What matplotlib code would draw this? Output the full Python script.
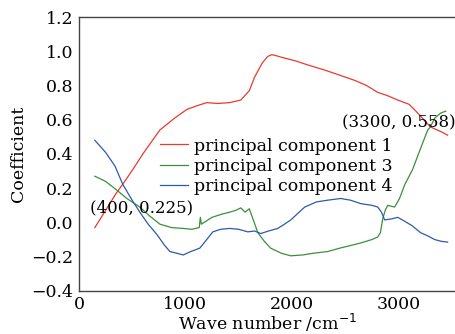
import numpy as np
import matplotlib
matplotlib.use('Agg')
import matplotlib.pyplot as plt

# hand-read points from the reference (wave number, coefficient)
pc1_x = [150, 250, 350, 414, 507, 600, 760, 900, 1013, 1100, 1200, 1300, 1416, 1520, 1600, 1650, 1720, 1773, 1810, 1848, 1900, 2027, 2150, 2308, 2450, 2589, 2700, 2805, 2900, 2993, 3100, 3180, 3300, 3400, 3461]
pc1_y = [-0.03, 0.07, 0.17, 0.225, 0.31, 0.40, 0.54, 0.61, 0.66, 0.68, 0.70, 0.695, 0.70, 0.715, 0.77, 0.85, 0.93, 0.97, 0.98, 0.975, 0.965, 0.945, 0.92, 0.89, 0.86, 0.83, 0.80, 0.76, 0.74, 0.715, 0.69, 0.64, 0.558, 0.53, 0.51]

pc3_x = [150, 250, 354, 450, 572, 660, 760, 870, 980, 1060, 1130, 1140, 1150, 1250, 1350, 1416, 1470, 1520, 1560, 1600, 1680, 1740, 1800, 1900, 1990, 2100, 2200, 2335, 2450, 2550, 2645, 2750, 2805, 2830, 2852, 2875, 2899, 2964, 3010, 3058, 3133, 3200, 3274, 3300, 3340, 3400, 3443]
pc3_y = [0.27, 0.24, 0.19, 0.14, 0.09, 0.04, -0.01, -0.03, -0.035, -0.04, -0.03, 0.03, -0.01, 0.03, 0.05, 0.06, 0.07, 0.085, 0.06, 0.08, -0.06, -0.11, -0.15, -0.18, -0.195, -0.19, -0.18, -0.17, -0.15, -0.135, -0.12, -0.10, -0.085, -0.06, 0.02, 0.07, 0.10, 0.09, 0.14, 0.22, 0.31, 0.42, 0.54, 0.558, 0.61, 0.64, 0.65]

pc4_x = [150, 250, 338, 414, 500, 572, 650, 732, 800, 854, 920, 980, 1050, 1135, 1200, 1257, 1330, 1416, 1500, 1585, 1650, 1707, 1780, 1867, 1930, 1990, 2050, 2120, 2230, 2335, 2458, 2550, 2645, 2750, 2805, 2840, 2870, 2930, 2993, 3050, 3130, 3208, 3280, 3340, 3400, 3461]
pc4_y = [0.48, 0.41, 0.33, 0.22, 0.13, 0.06, -0.01, -0.07, -0.13, -0.17, -0.18, -0.19, -0.17, -0.15, -0.10, -0.055, -0.04, -0.035, -0.04, -0.055, -0.05, -0.065, -0.05, -0.035, -0.01, 0.015, 0.05, 0.09, 0.12, 0.13, 0.14, 0.13, 0.11, 0.10, 0.09, 0.06, 0.015, 0.02, 0.03, 0.01, -0.02, -0.06, -0.08, -0.10, -0.11, -0.115]

names = ['principal component 1', 'principal component 3', 'principal component 4']
colors = ['#e83a2e', '#3b8f3b', '#2d5aa8']

plt.rcParams['font.family'] = 'DejaVu Serif'
plt.rcParams['font.size'] = 12

fig = plt.figure(figsize=(4.56, 3.34), dpi=100)
ax = fig.add_axes([0.173, 0.129, 0.827, 0.82])

ax.plot(pc1_x, pc1_y, color=colors[0], linewidth=0.9, label=names[0])
ax.plot(pc3_x, pc3_y, color=colors[1], linewidth=0.9, label=names[1])
ax.plot(pc4_x, pc4_y, color=colors[2], linewidth=0.9, label=names[2])

ax.set_xlim(0, 3540)
ax.set_ylim(-0.4, 1.2)
ax.set_xticks([0, 1000, 2000, 3000])
ax.set_yticks(np.arange(-0.4, 1.21, 0.2))
ax.set_yticklabels(['\u22120.4', '\u22120.2', '0.0', '0.2', '0.4', '0.6', '0.8', '1.0', '1.2'])
ax.tick_params(length=0, pad=4, labelsize=12.5)

ax.spines['right'].set_visible(False)
for s in ['left', 'bottom', 'top']:
    ax.spines[s].set_color('#444444')
    ax.spines[s].set_linewidth(1.0)

ax.set_xlabel('Wave number /cm$^{-1}$', labelpad=-1, fontsize=12.5)
ax.set_ylabel('Coefficient', labelpad=3, fontsize=12.5)

ax.text(100, 0.085, '(400, 0.225)', ha='left', va='center', fontsize=12)
ax.text(3538, 0.58, '(3300, 0.558)', ha='right', va='center', fontsize=12)

ax.legend(loc='upper left', bbox_to_anchor=(0.215, 0.56), frameon=False, handlelength=1.6,
          handletextpad=0.35, labelspacing=0.2, borderpad=0, borderaxespad=0, fontsize=12.5)

fig.savefig('out.png', dpi=100)
